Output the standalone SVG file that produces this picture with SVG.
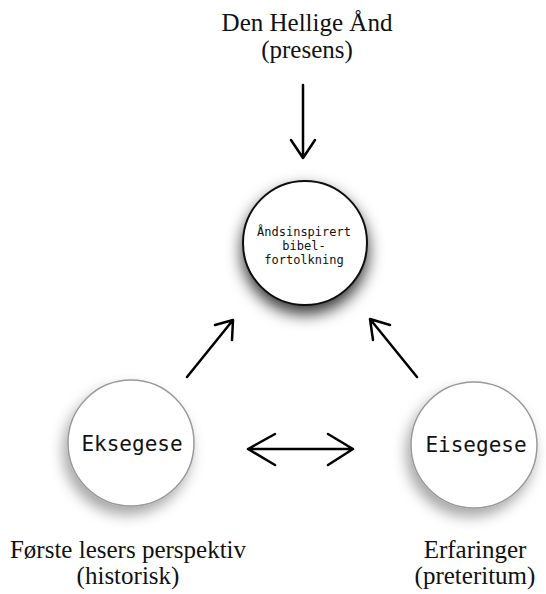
<svg xmlns="http://www.w3.org/2000/svg" width="546" height="594" viewBox="0 0 546 594">
<style>
.lbl{font-family:"Liberation Serif","Times New Roman",serif;font-size:25px;fill:#111;text-anchor:middle}
.mono{font-family:"DejaVu Sans Mono","Liberation Mono",monospace;fill:#111;text-anchor:middle}
.arr{fill:none;stroke:#000;stroke-width:2.5;stroke-linecap:round;stroke-linejoin:round}
</style>
<defs>
<filter id="shTop" x="-50%" y="-50%" width="200%" height="200%">
<feDropShadow dx="0" dy="8" stdDeviation="8" flood-color="#000" flood-opacity="0.8"/>
</filter>
<filter id="shLow" x="-50%" y="-50%" width="200%" height="200%">
<feDropShadow dx="-4" dy="8" stdDeviation="7" flood-color="#000" flood-opacity="0.35"/>
</filter>
</defs>
<rect width="546" height="594" fill="#fff"/>
<g id="label-top">
<text class="lbl" x="307" y="31">Den Hellige Ånd</text>
<text class="lbl" x="307" y="58">(presens)</text>
</g>
<g id="node-center">
<circle cx="305" cy="243" r="62" fill="#fff" stroke="#111" stroke-width="2" filter="url(#shTop)"/>
<text class="mono" font-size="12" x="304" y="236">Åndsinspirert</text>
<text class="mono" font-size="12" x="304" y="250">bibel-</text>
<text class="mono" font-size="12" x="304" y="264">fortolkning</text>
</g>
<g id="node-eksegese">
<circle cx="131" cy="443" r="63" fill="#fff" stroke="#999" stroke-width="1.5" filter="url(#shLow)"/>
<text class="mono" font-size="21" x="132" y="451">Eksegese</text>
</g>
<g id="node-eisegese">
<circle cx="474" cy="445" r="63" fill="#fff" stroke="#999" stroke-width="1.5" filter="url(#shLow)"/>
<text class="mono" font-size="21" x="476" y="452">Eisegese</text>
</g>
<g id="label-left">
<text class="lbl" x="128" y="558">Første lesers perspektiv</text>
<text class="lbl" x="128" y="584">(historisk)</text>
</g>
<g id="label-right">
<text class="lbl" x="475" y="558">Erfaringer</text>
<text class="lbl" x="475" y="584">(preteritum)</text>
</g>
<g id="connectors">
<path class="arr" d="M303 85 V158 M291 140 L303 158 L315 140"/>
<path class="arr" d="M187 377 L233 320 M215 325 L233 320 L232 340"/>
<path class="arr" d="M417 377 L370 319 M390 325 L370 319 L373 340"/>
<path class="arr" stroke-width="4.5" d="M248 449 H353 M275 434 L248 449 L275 465 M328 434 L353 449 L328 465"/>
</g>
</svg>
